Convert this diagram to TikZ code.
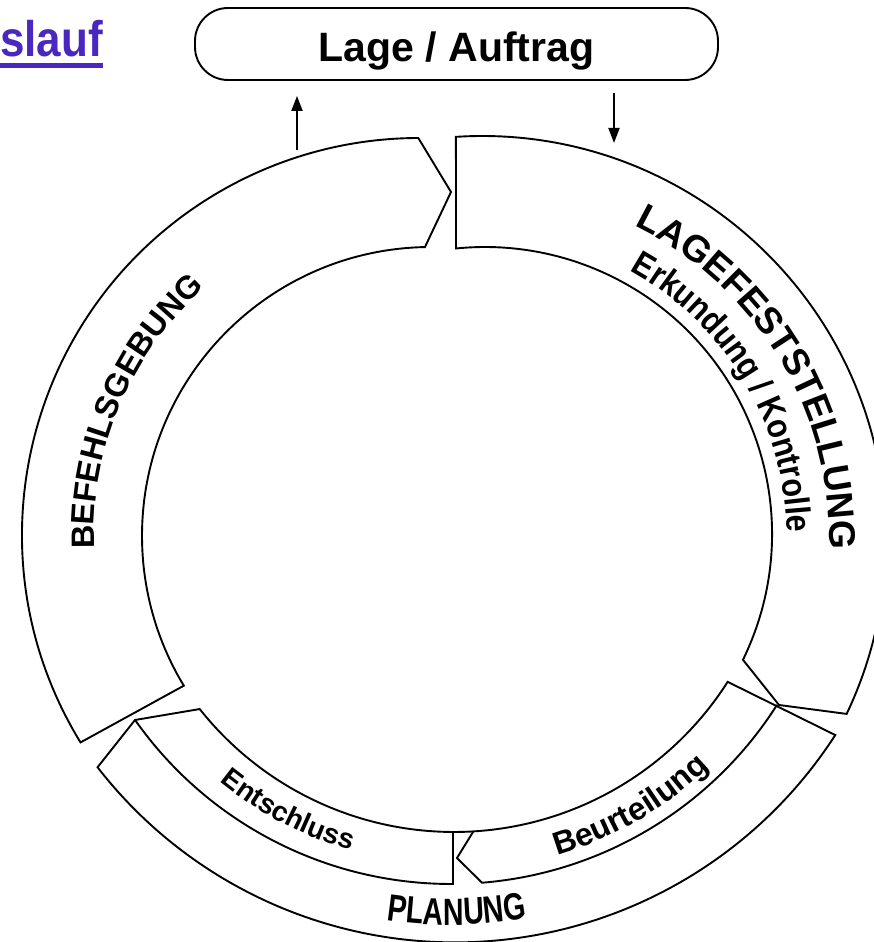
\documentclass[tikz,border=0pt]{standalone}
\usepackage{fontspec}
\setmainfont{Liberation Sans}
\newfontfamily\narrowA[FakeStretch=0.87]{Liberation Sans Bold}
\newfontfamily\narrowB[FakeStretch=0.75]{Liberation Sans Bold}
\newfontfamily\narrowT[FakeStretch=0.88]{Liberation Sans Bold}
\usetikzlibrary{calc,decorations.text,arrows.meta}
\definecolor{titleblue}{RGB}{74,40,192}
\newcommand\fBef{\bfseries\fontsize{32.4}{33}\selectfont}
\newcommand\fLag{\bfseries\fontsize{37.2}{38}\selectfont}
\newcommand\fErk{\narrowA\fontsize{35}{35}\selectfont}
\newcommand\fEnt{\bfseries\fontsize{28}{28}\selectfont}
\newcommand\fBeu{\bfseries\fontsize{32}{32}\selectfont}
\newcommand\fPla{\narrowB\fontsize{38}{38}\selectfont}
\begin{document}
\begin{tikzpicture}[x=1pt,y=1pt,
  seg/.style={draw=black, line width=1.9pt, line join=miter},
  arr/.style={draw=black, line width=1.9pt, -{Triangle[length=15pt,width=11pt]}}]
\useasboundingbox (0,0) rectangle (873,942);
\fill[white] (0,0) rectangle (873,942);

% title (cut off at left)
\node[anchor=base east, inner sep=0, text=titleblue,
      font=\narrowT\fontsize{50}{50}\selectfont] (title) at (103,885) {slauf};
\draw[titleblue, line width=4.5pt] ($(title.base west)+(0,-8.5)$) -- ($(title.base east)+(0,-8.5)$);

% Lage / Auftrag box
\node[draw, line width=1.9pt, rounded corners=33pt, minimum width=523pt, minimum height=72pt,
      inner sep=0, font=\bfseries\fontsize{41}{41}\selectfont, text height=36pt, text depth=0pt]
      (lage) at (456.5,898) {Lage / Auftrag};

% BEFEHLSGEBUNG segment
\draw[seg] ($(419,407)+(211.5:397)$) arc[start angle=211.5, end angle=90.1, radius=397]
  -- (451,750) -- ($(431,406)+(91.2:289)$) arc[start angle=91.2, end angle=211.2, radius=289] -- cycle;

% LAGEFESTSTELLUNG segment
\draw[seg] ($(482,402)+(93.7:404)$) arc[start angle=93.7, end angle=-25.5, radius=404]
  -- (779,237) -- ($(485,408)+(-26:287)$) arc[start angle=-26, end angle=95.8, radius=287] -- cycle;

% PLANUNG segment
\draw[seg] ($(454,434.5)+(-32.5:324.5)$) arc[start angle=-32.5, end angle=-141.6, radius=324.5]
  -- (135,222) -- ($(455,452)+(-142.2:452.4)$) arc[start angle=-142.2, end angle=-32.8, radius=452.4] -- cycle;
% Entschluss sub-band
\draw[seg] ($(451,444.3)+(-144.9:386.3)$) arc[start angle=-144.9, end angle=-89.7, radius=386.3] -- (453,110);
% Beurteilung sub-band
\draw[seg] (473,110) -- (457,84) -- ($(451,444.3)+(-85.4:386.3)$) arc[start angle=-85.4, end angle=-32.45, radius=386.3];

% connectors
\coordinate (befOut) at (297,792);
\coordinate (lagIn) at (614,799);
\draw[arr, shorten >=15pt] (befOut) -- (befOut |- lage.south);
\draw[arr, shorten <=12pt] (lage.south -| lagIn) -- (lagIn);

% labels along the ring
\path[decorate, decoration={text along path, text align=center, text={|\fBef|BEFEHLSGEBUNG}}]
  ($(425,407)+(200:331)$) arc[start angle=200, end angle=114, radius=331];
\path[decorate, decoration={text along path, text align=center, text={|\fLag|LAGEFESTSTELLUNG}}]
  ($(483,405)+(76:346)$) arc[start angle=76, end angle=-14, radius=346];
\path[decorate, decoration={text along path, text align=center, text={|\fErk|Erkundung / Kontrolle}}]
  ($(483,405)+(76:304)$) arc[start angle=76, end angle=-14, radius=304];
\path[decorate, decoration={text along path, text align=center, text={|\fEnt|Entschluss}}]
  ($(451,444)+(-157.5:366)$) arc[start angle=-157.5, end angle=-77.5, radius=366];
\path[decorate, decoration={text along path, text align=center, text={|\fBeu|Beurteilung}}]
  ($(451,444)+(-99.8:373)$) arc[start angle=-99.8, end angle=-19.8, radius=373];
\path[decorate, decoration={text along path, text align=center, text={|\fPla|PLANUNG}}]
  ($(451,444)+(-129.2:427)$) arc[start angle=-129.2, end angle=-49.2, radius=427];
\end{tikzpicture}
\end{document}
